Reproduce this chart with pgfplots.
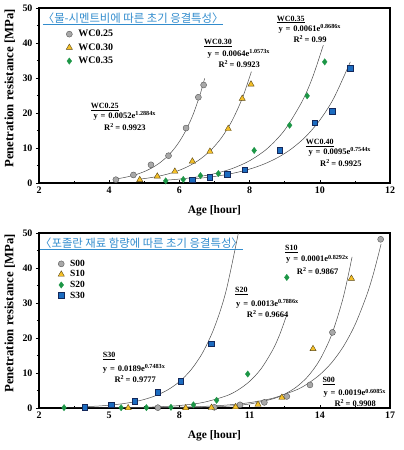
\documentclass[border=0pt]{standalone}
\usepackage{pgfplots}
\pgfplotsset{compat=1.18}
\usepackage{fontspec}
\setmainfont{Liberation Serif}
\newfontfamily\kr{Noto Sans CJK KR}
\definecolor{cgray}{RGB}{168,168,168}
\definecolor{cgrayd}{RGB}{85,85,85}
\definecolor{cyel}{RGB}{244,192,40}
\definecolor{cyeld}{RGB}{90,70,20}
\definecolor{cgreen}{RGB}{28,150,70}
\definecolor{cblue}{RGB}{28,108,192}
\definecolor{cblued}{RGB}{20,40,90}
\definecolor{ctitle}{RGB}{50,140,205}
\newcommand\eqn[2]{y\hspace{0.8bp} = \hspace{0.8bp}#1e\raisebox{2.8bp}{\fontsize{6.2}{7}\selectfont #2}}
\newcommand\rsq[1]{R\raisebox{3bp}{\fontsize{6}{7}\selectfont 2} = #1}
\newcommand\lab[1]{{\fontsize{8}{10}\selectfont\underline{#1}}}
\pgfplotsset{
  myaxis/.style={
    scale only axis, width=351bp, height=175bp, anchor=south west,
    ymin=0, ymax=50, ytick={0,10,...,50}, minor y tick num=1, minor x tick num=1,
    axis line style={line width=1.2pt, black},
    xtick pos=left, ytick pos=left,
    xtick align=inside, ytick align=outside,
    major tick length=3bp, minor tick length=2bp,
    tick style={black, line width=0.6pt},
    ticklabel style={font=\fontsize{10}{12}\selectfont\bfseries},
    /pgf/number format/assume math mode=true,
    xlabel={Age [hour]}, ylabel={Penetration resistance [MPa]},
    xlabel style={font=\fontsize{11.5}{13}\selectfont\bfseries, at={(axis description cs:0.5,-0.16)}, anchor=center},
    ylabel style={font=\fontsize{12.8}{14}\selectfont\bfseries, at={(axis description cs:-0.083,0.54)}, anchor=center},
    legend cell align=left,
  },
  tl/.style={no marks, draw=black!70, line width=0.5pt, smooth, forget plot},
  sA/.style={only marks, mark=*, mark size=3bp, mark options={fill=cgray, draw=cgrayd, line width=0.4pt}},
  sB/.style={only marks, mark=triangle*, mark size=3.6bp, mark options={fill=cyel, draw=cyeld, line width=0.4pt}},
  sC/.style={only marks, mark=diamond*, mark size=3.2bp, mark options={fill=cgreen, draw=cgreen, line width=0.3pt}},
  sD/.style={only marks, mark=square*, mark size=2.8bp, mark options={fill=cblue, draw=cblued, line width=0.5pt}},
}
\tikzset{ann/.style={anchor=west, inner sep=0pt, font=\fontsize{8.5}{10}\selectfont\bfseries}}
\begin{document}
\begin{tikzpicture}
\useasboundingbox (0,0) rectangle (404bp,450bp);
% ---------------- top chart ----------------
\begin{axis}[myaxis, at={(39bp,267bp)},
  xmin=2, xmax=12, xtick={2,4,...,12},
  legend style={at={(axis description cs:0.077,0.883)}, anchor=north west, draw=none, fill=none,
    inner sep=0pt, row sep=2.5pt, column sep=5bp, font=\fontsize{10}{12}\selectfont\bfseries,
    nodes={inner sep=1pt, text height=7pt, text depth=2pt, font=\fontsize{10}{12}\selectfont\bfseries}}]
\addplot[sA] table {
4.19 0.95
4.69 2.3
5.19 5.2
5.69 7.8
6.19 15.7
6.54 24.5
6.69 28.0
};
\addlegendentry{WC0.25}
\addplot[sB] table {
4.87 0.9
5.37 1.9
5.87 3.3
6.37 6.2
6.87 9.0
7.39 15.5
7.79 24.1
8.04 28.2
};
\addlegendentry{WC0.30}
\addplot[sC] table {
5.61 0.6
6.11 1.0
6.60 2.1
7.11 2.7
8.13 9.3
9.14 16.5
9.64 24.9
10.14 34.6
};
\addlegendentry{WC0.35}
\addplot[sD, forget plot] table {
6.36 0.9
6.86 1.6
7.37 2.5
7.86 3.8
8.86 9.3
9.86 17.2
10.36 20.5
10.87 32.7
};
\addplot[tl] table {
4.2 1.164
4.4 1.506
4.6 1.949
4.8 2.523
5.0 3.264
5.2 4.223
5.4 5.465
5.6 7.070
5.8 9.148
6.0 11.838
6.2 15.318
6.4 19.821
6.6 25.644
6.72 29.9
};
\addplot[tl] table {
4.87 1.103
5.1 1.406
5.4 1.931
5.7 2.652
6.0 3.641
6.3 5.000
6.6 6.867
6.9 9.430
7.2 12.950
7.5 17.784
7.8 24.42
8.05 31.81
};
\addplot[tl] table {
5.6 0.790
6.0 1.119
6.5 1.727
7.0 2.666
7.5 4.116
8.0 6.356
8.5 9.813
9.0 15.149
9.5 23.389
9.8 30.352
10.1 39.388
};
\addplot[tl] table {
6.36 1.152
6.8 1.605
7.2 2.171
7.6 2.936
8.0 3.970
8.4 5.368
8.8 7.259
9.2 9.816
9.6 13.273
10.0 17.949
10.4 24.273
10.87 34.602
};
\end{axis}
% ---------------- bottom chart ----------------
\begin{axis}[myaxis, at={(39bp,42bp)},
  xmin=2, xmax=17, xtick={2,5,...,17},
  legend style={at={(axis description cs:0.054,0.855)}, anchor=north west, draw=none, fill=none,
    inner sep=0pt, row sep=0pt, column sep=5bp, font=\fontsize{9.5}{11}\selectfont\bfseries,
    nodes={inner sep=0.8pt, text height=7pt, text depth=2pt, font=\fontsize{9.5}{11}\selectfont\bfseries}}]
\addplot[sA] table {
7.08 0.1
9.49 0.2
10.59 0.9
11.63 1.6
12.59 3.3
13.58 6.6
14.54 21.6
16.60 48.2
};
\addlegendentry{S00}
\addplot[sB] table {
5.81 0.0
8.27 0.0
9.37 0.1
10.40 0.3
11.36 1.0
12.38 3.0
13.71 16.9
15.35 37.0
};
\addlegendentry{S10}
\addplot[sC] table {
3.07 0.1
5.51 0.1
6.59 0.1
7.64 0.2
8.60 0.9
9.59 2.2
10.92 9.7
12.59 37.3
};
\addlegendentry{S20}
\addplot[sD] table {
3.96 0.3
5.08 0.9
6.09 2.0
7.07 4.5
8.05 7.6
9.37 18.4
};
\addlegendentry{S30}
\addplot[tl] table {
3.96 0.366
4.5 0.548
5.0 0.797
5.5 1.159
6.0 1.684
6.5 2.448
7.0 3.559
7.5 5.174
8.0 7.522
8.5 10.936
9.0 15.897
9.5 23.111
10.0 33.597
10.6 52.64
};
\addplot[tl] table {
3.07 0.015
4.0 0.031
5.0 0.067
6.0 0.148
7.0 0.325
8.0 0.714
9.0 1.571
10.0 3.458
10.5 5.129
11.0 7.609
11.5 11.285
12.0 16.740
12.3 21.21
12.59 26.66
};
\addplot[tl] table {
5.81 0.016
7.0 0.042
8.0 0.095
9.0 0.218
10.0 0.499
11.0 1.143
12.0 2.620
12.5 3.966
13.0 6.004
13.5 9.088
14.0 13.758
14.5 20.83
15.0 31.53
15.38 43.20
};
\addplot[tl] table {
7.08 0.141
8.0 0.247
9.0 0.454
10.0 0.835
11.0 1.534
12.0 2.818
13.0 5.179
13.5 7.021
14.0 9.517
14.5 12.90
15.0 17.49
15.5 23.71
16.0 32.14
16.3 38.58
16.62 46.87
};
\end{axis}
% ---------------- titles ----------------
\node[anchor=west, inner sep=0pt, text=ctitle] at (42.7bp,431bp) {\kr\fontsize{11.4}{13}\selectfont\underline{〈물-시멘트비에 따른 초기 응결특성〉}};
\node[anchor=west, inner sep=0pt, text=ctitle] at (40bp,206bp) {\kr\fontsize{11.4}{13}\selectfont\underline{〈포졸란 재료 함량에 따른 초기 응결특성〉}};
% ---------------- annotations top ----------------
\node[ann] at (90.7bp,343bp) {\lab{WC0.25}};
\node[ann] at (93.3bp,334bp) {\eqn{0.0052}{1.2884x}};
\node[ann] at (104bp,323bp) {\rsq{0.9923}};
\node[ann] at (204bp,407bp) {\lab{WC0.30}};
\node[ann] at (207.3bp,396.5bp) {\eqn{0.0064}{1.0573x}};
\node[ann] at (218.3bp,386bp) {\rsq{0.9923}};
\node[ann] at (276.7bp,430.5bp) {\lab{WC0.35}};
\node[ann] at (278.3bp,421bp) {\eqn{0.0061}{0.8686x}};
\node[ann] at (293.3bp,410.5bp) {\rsq{0.99}};
\node[ann] at (305.7bp,307bp) {\lab{WC0.40}};
\node[ann] at (308.3bp,298bp) {\eqn{0.0095}{0.7544x}};
\node[ann] at (320bp,287bp) {\rsq{0.9925}};
% ---------------- annotations bottom ----------------
\node[ann] at (102.7bp,94bp) {\lab{S30}};
\node[ann] at (102.7bp,81bp) {\eqn{0.0189}{0.7483x}};
\node[ann] at (114.3bp,71bp) {\rsq{0.9777}};
\node[ann] at (235bp,159.3bp) {\lab{S20}};
\node[ann] at (236bp,146.3bp) {\eqn{0.0013}{0.7886x}};
\node[ann] at (246.7bp,136.3bp) {\rsq{0.9664}};
\node[ann] at (285bp,200.7bp) {\lab{S10}};
\node[ann] at (286bp,190.7bp) {\eqn{0.0001}{0.8292x}};
\node[ann] at (296.7bp,179.3bp) {\rsq{0.9867}};
\node[ann] at (322.3bp,69bp) {\lab{S00}};
\node[ann] at (323.3bp,56.7bp) {\eqn{0.0019}{0.6085x}};
\node[ann] at (334.3bp,46.7bp) {\rsq{0.9908}};
\end{tikzpicture}
\end{document}
